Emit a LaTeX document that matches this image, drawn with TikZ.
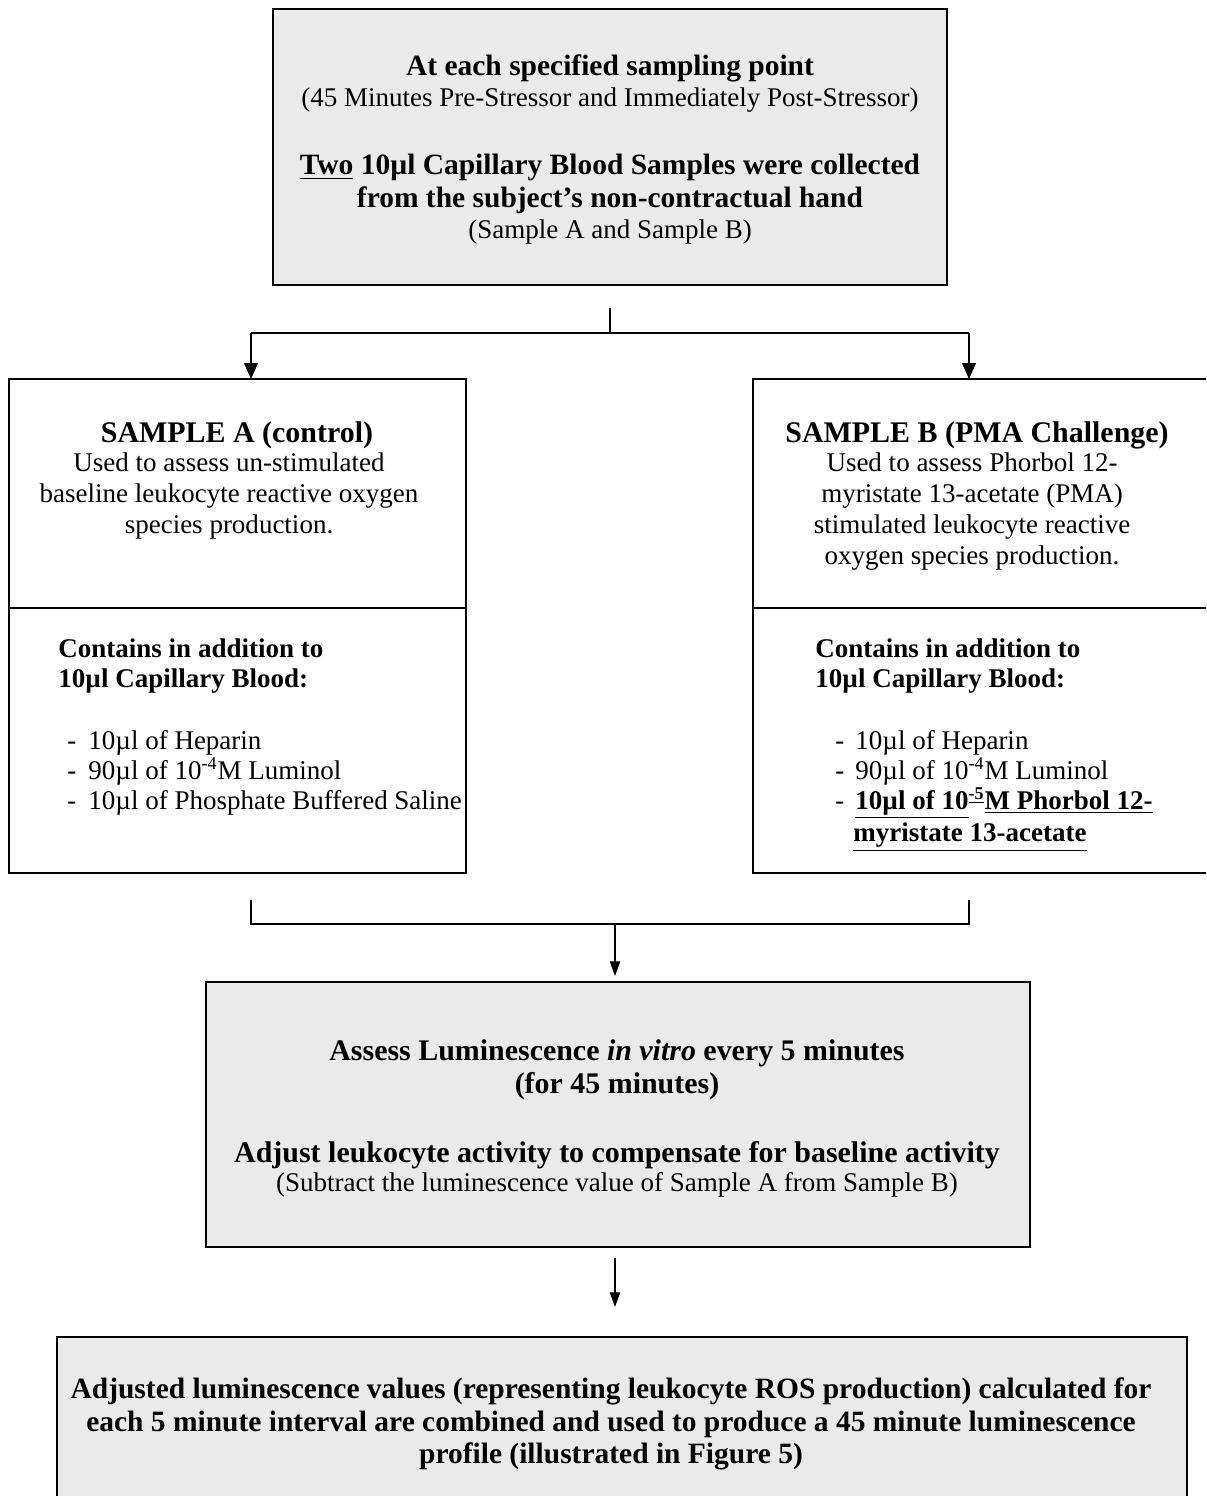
\documentclass[tikz,border=0pt]{standalone}
\usepackage{fontspec}
\setmainfont{Liberation Serif}
\usetikzlibrary{arrows.meta,calc}
\definecolor{boxgray}{RGB}{234,234,234}
\newlength\upx
\setlength\upx{0.4444pt}
\begin{document}
\begin{tikzpicture}[x=0.4444pt, y=-0.4444pt,
  box/.style={draw=black, line width=0.9pt, rectangle, inner sep=0pt, outer sep=0pt, anchor=north west},
  gbox/.style={box, fill=boxgray},
  ln/.style={anchor=base, inner sep=0pt},
  lnl/.style={anchor=base west, inner sep=0pt},
  rg/.style={font=\fontsize{12}{14}\selectfont},
  hb/.style={font=\fontsize{13.1}{15}\selectfont\bfseries},
  sb/.style={font=\fontsize{13.3}{15}\selectfont\bfseries},
  db/.style={font=\fontsize{13.1}{15}\selectfont\bfseries},
  cb/.style={font=\fontsize{12}{14}\selectfont\bfseries},
  conn/.style={draw=black, line width=0.7pt},
  thin/.style={draw=black, line width=0.5pt},
  arr/.style={conn, -{Triangle[length=7pt,width=6pt]}},
  sarr/.style={thin, -{Triangle[length=6.5pt,width=4.6pt]}},
]
\useasboundingbox (0,0) rectangle (1206,1496);
\clip (0,0) rectangle (1206,1496);

% boxes
\node[gbox, minimum width=674\upx, minimum height=276\upx] (top) at (273,9) {};
\node[box, minimum width=457\upx, minimum height=494\upx] (boxA) at (9,379) {};
\node[box, minimum width=462\upx, minimum height=494\upx] (boxB) at (753,379) {};
\node[gbox, minimum width=824\upx, minimum height=265\upx] (boxC) at (206,982) {};
\node[gbox, minimum width=1130\upx, minimum height=175\upx] (boxD) at (57,1337) {};

% dividers
\coordinate (dA) at (9,608);
\coordinate (dB) at (753,608);
\draw[box] (dA) -- (dA -| boxA.east);
\draw[box] (dB) -- (dB -| boxB.east);

% split connector
\coordinate (s0) at (610,308);
\coordinate (s1) at (610,333);
\coordinate (sL) at (251,333);
\coordinate (sR) at (969,333);
\draw[thin] (s0) -- (s1);
\draw[conn, line width=1.1pt] (sL) -- (sR);
\draw[arr] (sL) -- (sL |- boxA.north);
\draw[arr] (sR) -- (sR |- boxB.north);

% merge connector
\coordinate (mL0) at (251,900);
\coordinate (mL) at (251,924);
\coordinate (mR0) at (969,900);
\coordinate (mR) at (969,924);
\coordinate (mC) at (615,924);
\coordinate (cIn) at (615,976);
\draw[thin] (mL0) -- (mL) -- (mR) -- (mR0);
\draw[sarr] (mC) -- (cIn);

% bottom arrow
\coordinate (b0) at (615,1258);
\coordinate (b1) at (615,1307);
\draw[sarr] (b0) -- (b1);

% top box text
\node[ln, hb] (t1) at (610,76) {At each specified sampling point};
\node[ln, rg] (t2) at (610,107) {(45 Minutes Pre-Stressor and Immediately Post-Stressor)};
\node[ln, hb] (t3) at (610,175) {\underline{Two} 10µl Capillary Blood Samples were collected};
\node[ln, hb] (t4) at (610,208) {from the subject’s non-contractual hand};
\node[ln, rg] (t5) at (610,239) {(Sample A and Sample B)};

% box A text
\node[ln, sb] (a1) at (237,443) {SAMPLE A (control)};
\node[ln, rg] (a2) at (229,472) {Used to assess un-stimulated};
\node[ln, rg] (a3) at (229,503) {baseline leukocyte reactive oxygen};
\node[ln, rg] (a4) at (229,533) {species production.};
\node[lnl, cb] (a5) at (58,657) {Contains in addition to};
\node[lnl, cb] (a6) at (58,687) {10µl Capillary Blood:};
\node[lnl, rg] (a7d) at (67,749) {-};
\node[lnl, rg] (a7) at (88,749) {10µl of Heparin};
\node[lnl, rg] (a8d) at (67,779) {-};
\node[lnl, rg] (a8) at (88,779) {90µl of 10\textsuperscript{-4}M Luminol};
\node[lnl, rg] (a9d) at (67,809) {-};
\node[lnl, rg] (a9) at (88,809) {10µl of Phosphate Buffered Saline};

% box B text
\node[ln, sb] (bt1) at (977,443) {SAMPLE B (PMA Challenge)};
\node[ln, rg] (bt2) at (972,472) {Used to assess Phorbol 12-};
\node[ln, rg] (bt3) at (972,503) {myristate 13-acetate (PMA)};
\node[ln, rg] (bt4) at (972,533) {stimulated leukocyte reactive};
\node[ln, rg] (bt5) at (972,564) {oxygen species production.};
\node[lnl, cb] (bt6) at (815,657) {Contains in addition to};
\node[lnl, cb] (bt7) at (815,687) {10µl Capillary Blood:};
\node[lnl, rg] (bt8d) at (835,749) {-};
\node[lnl, rg] (bt8) at (855,749) {10µl of Heparin};
\node[lnl, rg] (bt9d) at (835,779) {-};
\node[lnl, rg] (bt9) at (855,779) {90µl of 10\textsuperscript{-4}M Luminol};
\node[lnl, rg] (bt10d) at (835,809) {-};
\node[lnl, cb] (bt10) at (855,809) {\underline{10µl of 10}\textsuperscript{\underline{-5}}\underline{M Phorbol 12-}};
\node[lnl, cb] (bt11) at (853,841) {\underline{myristate 13-acetate}};

% box C text
\node[ln, sb] (c1) at (617,1060) {Assess Luminescence \textit{in vitro} every 5 minutes};
\node[ln, sb] (c2) at (617,1093) {(for 45 minutes)};
\node[ln, sb] (c3) at (617,1162) {Adjust leukocyte activity to compensate for baseline activity};
\node[ln, rg] (c4) at (617,1191) {(Subtract the luminescence value of Sample A from Sample B)};

% box D text
\node[ln, db] (d1) at (611,1398) {Adjusted luminescence values (representing leukocyte ROS production) calculated for};
\node[ln, db] (d2) at (611,1431) {each 5 minute interval are combined and used to produce a 45 minute luminescence};
\node[ln, db] (d3) at (611,1463) {profile (illustrated in Figure 5)};
\end{tikzpicture}
\end{document}
